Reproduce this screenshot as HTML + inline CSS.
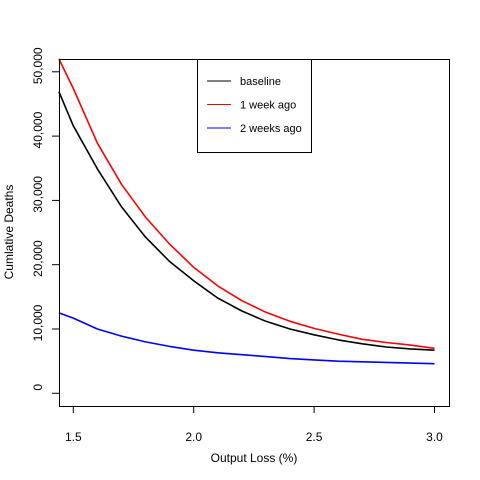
<!DOCTYPE html>
<html><head><meta charset="utf-8"><style>
html,body{margin:0;padding:0;background:#fff;}
svg{display:block;font-family:"Liberation Sans",sans-serif;}
</style></head><body>
<svg id="chart" width="480" height="480" viewBox="0 0 480 480" xmlns="http://www.w3.org/2000/svg">
<rect x="0" y="0" width="480" height="480" fill="#fff"/>
<g id="series"></g>
<rect x="59.5" y="59.5" width="390" height="347" fill="none" stroke="#000" stroke-width="1"/>
<g id="axes" font-size="12" fill="#000"></g>
<text x="254" y="462" font-size="12" text-anchor="middle">Output Loss (%)</text>
<text transform="translate(13,232) rotate(-90)" font-size="12" text-anchor="middle">Cumlative Deaths</text>
<g>
<rect x="197.5" y="59.5" width="114" height="93" fill="#fff" stroke="#000"/>
<line x1="207" x2="231" y1="81" y2="81" stroke="#000"/>
<text x="240" y="85" font-size="11">baseline</text>
<line x1="207" x2="231" y1="104.5" y2="104.5" stroke="#f00"/>
<text x="240" y="108.5" font-size="11">1 week ago</text>
<line x1="207" x2="231" y1="128" y2="128" stroke="#00f"/>
<text x="240" y="132" font-size="11">2 weeks ago</text>
</g>
</svg>
<script>
const xs = [1.44,1.5,1.6,1.7,1.8,1.9,2.0,2.1,2.2,2.3,2.4,2.5,2.6,2.7,2.8,2.9,3.0];
const baseline = [46900,41600,34900,29000,24300,20500,17500,14800,12800,11200,10000,9100,8300,7700,7200,6900,6700];
const weekAgo = [52000,47400,38900,32500,27400,23200,19600,16700,14400,12600,11200,10100,9200,8400,7900,7500,7000];
const twoWeeksAgo = [12500,11700,10000,8900,8000,7300,6700,6300,6000,5700,5400,5200,5000,4900,4800,4700,4600];
const xTicks = [1.5,2.0,2.5,3.0];
const xTickLabels = ["1.5","2.0","2.5","3.0"];
const yTicks = [0,10000,20000,30000,40000,50000];
const yTickLabels = ["0","10,000","20,000","30,000","40,000","50,000"];

const X = v => 73.3 + (v - 1.5) * 240.8;
const Y = v => 393.3 - v * 0.00643;
const NS = "http://www.w3.org/2000/svg";
const sg = document.getElementById("series");
const ag = document.getElementById("axes");

function addLine(vals, color, name){
  const p = document.createElementNS(NS, "polyline");
  p.setAttribute("points", vals.map((v,i)=>X(xs[i]).toFixed(1)+","+Y(v).toFixed(1)).join(" "));
  p.setAttribute("fill","none");
  p.setAttribute("stroke",color);
  p.setAttribute("stroke-width","1.6");
  p.setAttribute("stroke-linejoin","round");
  
  
  sg.appendChild(p);
}
addLine(baseline, "#000", "line-baseline");
addLine(weekAgo, "#f00", "line-1-week-ago");
addLine(twoWeeksAgo, "#00f", "line-2-weeks-ago");

xTicks.forEach((t,i)=>{
  const l = document.createElementNS(NS,"line");
  l.setAttribute("x1",X(t)); l.setAttribute("x2",X(t));
  l.setAttribute("y1",406); l.setAttribute("y2",413);
  l.setAttribute("stroke","#000");
  
  
  ag.appendChild(l);
  const tx = document.createElementNS(NS,"text");
  tx.setAttribute("x",X(t)); tx.setAttribute("y",441);
  tx.setAttribute("text-anchor","middle");
  tx.textContent = xTickLabels[i];
  
  
  ag.appendChild(tx);
});
yTicks.forEach((t,i)=>{
  const l = document.createElementNS(NS,"line");
  l.setAttribute("x1",52); l.setAttribute("x2",59);
  l.setAttribute("y1",Y(t)); l.setAttribute("y2",Y(t));
  l.setAttribute("stroke","#000");
  
  
  ag.appendChild(l);
  const tx = document.createElementNS(NS,"text");
  tx.setAttribute("transform","translate(42,"+(Y(t)-6)+") rotate(-90)");
  tx.setAttribute("text-anchor","middle");
  tx.textContent = yTickLabels[i];
  
  
  ag.appendChild(tx);
});
</script>
</body></html>
